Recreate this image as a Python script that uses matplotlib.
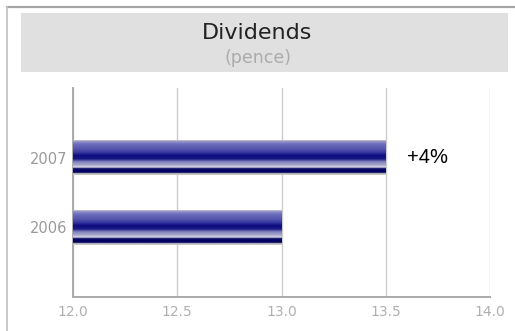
import numpy as np
import matplotlib
matplotlib.use('Agg')
import matplotlib.pyplot as plt
from matplotlib.colors import LinearSegmentedColormap
from matplotlib.patches import Rectangle
from matplotlib.lines import Line2D

# dividend per share, pence
years = ['2006', '2007']
dividends = [13.0, 13.5]
growth_label = '+4%'
xticks = [12.0, 12.5, 13.0, 13.5, 14.0]

# horizontal "tube" shading for the bars, top -> bottom
tube = LinearSegmentedColormap.from_list('tube', [
    (0.00, '#c8c8c8'),
    (0.04, '#9090cc'),
    (0.12, '#6c6cbc'),
    (0.26, '#5454ac'),
    (0.36, '#3434a0'),
    (0.44, '#0c0c80'),
    (0.54, '#181884'),
    (0.62, '#8080bc'),
    (0.72, '#aaaacc'),
    (0.78, '#dedee8'),
    (0.81, '#1a1a70'),
    (0.86, '#000062'),
    (0.93, '#00005c'),
    (0.96, '#c8c8c8'),
    (1.00, '#c8c8c8'),
])

fig = plt.figure(figsize=(5.15, 3.31), dpi=100)
W, H = 515.0, 331.0

# frame lines along top and left edge
fig.add_artist(Line2D([7 / W, 1.0], [1 - 6.5 / H, 1 - 6.5 / H],
                      transform=fig.transFigure, color='#a6a6a6', lw=1.6))
fig.add_artist(Line2D([7 / W, 7 / W], [0.0, 1 - 6.5 / H],
                      transform=fig.transFigure, color='#c0c0c0', lw=1.2))

# grey title panel
fig.add_artist(Rectangle((21 / W, 1 - 72 / H), (508 - 21) / W, (72 - 13) / H,
                         transform=fig.transFigure, facecolor='#e0e0e0',
                         edgecolor='none'))
fig.text(0.5, 1 - 39 / H, 'Dividends', ha='center', va='baseline',
         fontsize=16, color='#222222', family='DejaVu Sans')
fig.text(0.5, 1 - 63 / H, '(pence)', ha='center', va='baseline',
         fontsize=12.5, color='#ababab', family='DejaVu Sans')

ax = fig.add_axes([73 / W, 1 - 297 / H, (490 - 73) / W, (297 - 88) / H])
ypos = np.arange(len(years))
bars = ax.barh(ypos, [v - xticks[0] for v in dividends], left=xticks[0],
               height=0.5, color='none', zorder=3)

grad = np.linspace(0, 1, 200).reshape(-1, 1)
for b in bars:
    x0, y0 = b.get_x(), b.get_y()
    x1, y1 = x0 + b.get_width(), y0 + b.get_height()
    im = ax.imshow(grad, cmap=tube, aspect='auto', origin='upper',
                   extent=[x0, x1, y0, y1], zorder=3, interpolation='bilinear')
    im.set_clip_path(b)

# growth note next to the latest bar
ax.annotate(growth_label, xy=(dividends[-1], ypos[-1]), xytext=(15, 0),
            textcoords='offset points', va='center', ha='left',
            fontsize=14.5, color='black', family='Liberation Sans')

ax.set_xlim(xticks[0], xticks[-1])
ax.set_ylim(-1, len(years))
ax.set_xticks(xticks)
ax.set_xticklabels(['%.1f' % t for t in xticks])
ax.set_yticks(ypos)
ax.set_yticklabels(years)
ax.tick_params(axis='x', length=0, pad=6, labelsize=10, labelcolor='#b0b0b0')
ax.tick_params(axis='y', length=0, pad=4, labelsize=10.5, labelcolor='#9a9a9a')
ax.grid(True, axis='x', color='#cccccc', lw=1.0, zorder=0)
ax.set_axisbelow(True)
for side in ('top', 'right'):
    ax.spines[side].set_visible(False)
for side in ('left', 'bottom'):
    ax.spines[side].set_color('#aaaaaa')
    ax.spines[side].set_linewidth(1.4)

fig.savefig('out.png', dpi=100)
